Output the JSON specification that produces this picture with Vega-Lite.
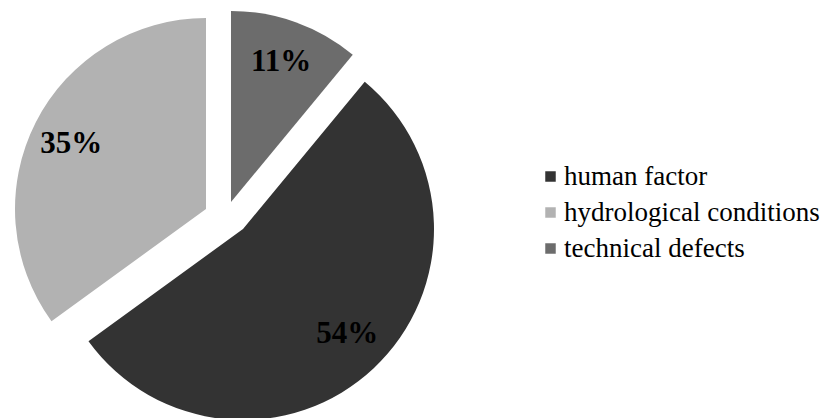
{
  "$schema": "https://vega.github.io/schema/vega-lite/v6.json",
  "width": 450,
  "height": 424,
  "padding": 0,
  "background": "white",
  "config": {"view": {"stroke": null}},
  "data": {"values": [
    {"category": "technical defects", "value": 11, "label": "11%"},
    {"category": "human factor", "value": 54, "label": "54%"},
    {"category": "hydrological conditions", "value": 35, "label": "35%"}
  ]},
  "encoding": {
    "theta": {"field": "value", "type": "quantitative", "stack": true, "scale": {"range": [0.69115, 6.97434]}},
    "order": {"field": "category", "type": "ordinal", "sort": "ascending"},
    "color": {
      "field": "category", "type": "nominal",
      "scale": {"domain": ["human factor", "hydrological conditions", "technical defects"], "range": ["#333333", "#b2b2b2", "#6c6c6c"]},
      "legend": {
        "title": null, "orient": "none", "legendX": 537, "legendY": 163,
        "symbolType": "square", "symbolSize": 110, "symbolStrokeWidth": 0,
        "labelFont": "Liberation Serif", "labelFontSize": 27, "labelColor": "#000000",
        "labelOffset": 0, "rowPadding": 8, "labelLimit": 400
      }
    }
  },
  "layer": [
    {"mark": {"type": "arc", "outerRadius": 191, "xOffset": 6, "yOffset": -10},
     "encoding": {"opacity": {"condition": {"test": "datum.category === 'technical defects'", "value": 1}, "value": 0}}},
    {"mark": {"type": "arc", "outerRadius": 191, "xOffset": 18, "yOffset": 17},
     "encoding": {"opacity": {"condition": {"test": "datum.category === 'human factor'", "value": 1}, "value": 0}}},
    {"mark": {"type": "arc", "outerRadius": 191, "xOffset": -19, "yOffset": -3},
     "encoding": {"opacity": {"condition": {"test": "datum.category === 'hydrological conditions'", "value": 1}, "value": 0}}},
    {"mark": {"type": "text", "radius": 148, "xOffset": 6, "yOffset": -11, "font": "Liberation Serif", "fontSize": 31, "fontWeight": "bold"},
     "encoding": {"text": {"field": "label"}, "detail": {"field": "category"}, "fill": {"value": "#000000"}, "opacity": {"condition": {"test": "datum.category === 'technical defects'", "value": 1}, "value": 0}}},
    {"mark": {"type": "text", "radius": 148, "xOffset": 21, "yOffset": 14, "font": "Liberation Serif", "fontSize": 31, "fontWeight": "bold"},
     "encoding": {"text": {"field": "label"}, "detail": {"field": "category"}, "fill": {"value": "#000000"}, "opacity": {"condition": {"test": "datum.category === 'human factor'", "value": 1}, "value": 0}}},
    {"mark": {"type": "text", "radius": 148, "xOffset": -22, "yOffset": -1, "font": "Liberation Serif", "fontSize": 31, "fontWeight": "bold"},
     "encoding": {"text": {"field": "label"}, "detail": {"field": "category"}, "fill": {"value": "#000000"}, "opacity": {"condition": {"test": "datum.category === 'hydrological conditions'", "value": 1}, "value": 0}}}
  ]
}
